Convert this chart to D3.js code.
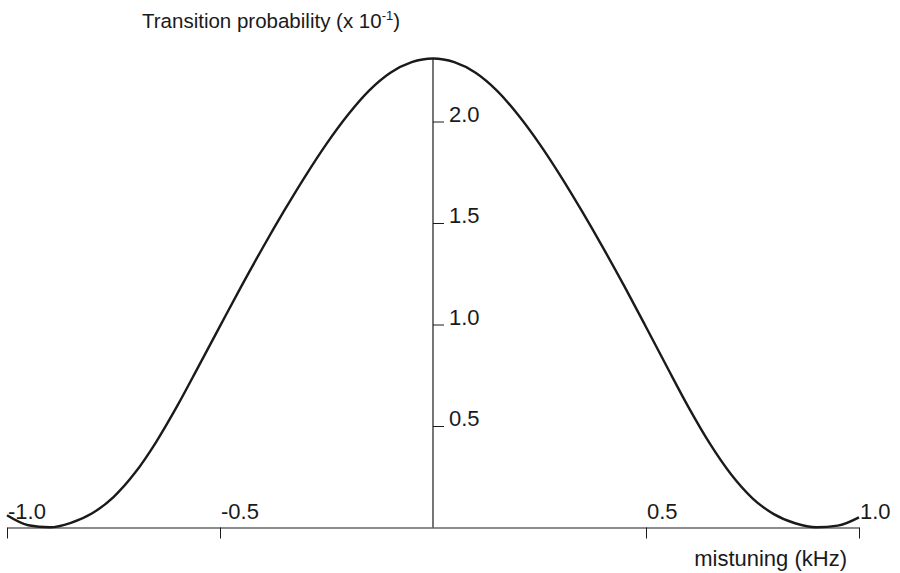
<!DOCTYPE html>
<html>
<head>
<meta charset="utf-8">
<script src="https://cdn.jsdelivr.net/npm/d3@7"></script>
<style>
  html, body { margin: 0; padding: 0; background: #fff; }
  svg { display: block; font-family: "Liberation Sans", Arial, Helvetica, sans-serif; }
</style>
</head>
<body>
<svg id="chart" width="900" height="573"></svg>
<script>
// Detuning (kHz) and transition probability (units of 10^-1)
const detuning = [
  -1.00, -0.95, -0.90, -0.85, -0.80, -0.75, -0.70, -0.65, -0.60, -0.55, -0.50,
  -0.45, -0.40, -0.35, -0.30, -0.25, -0.20, -0.15, -0.10, -0.05, 0.00,
  0.05, 0.10, 0.15, 0.20, 0.25, 0.30, 0.35, 0.40, 0.45, 0.50,
  0.55, 0.60, 0.65, 0.70, 0.75, 0.80, 0.85, 0.90, 0.95, 1.00
];
const probability = [
  0.060, 0.011, 0.001, 0.023, 0.070, 0.150, 0.268, 0.421, 0.600, 0.795, 0.992,
  1.188, 1.377, 1.558, 1.730, 1.890, 2.032, 2.152, 2.240, 2.292, 2.310,
  2.292, 2.240, 2.152, 2.032, 1.890, 1.730, 1.557, 1.375, 1.185, 0.988,
  0.788, 0.592, 0.413, 0.261, 0.144, 0.066, 0.021, 0.001, 0.009, 0.050
];
const xTickValues = [-1.0, -0.5, 0.5, 1.0];
const xTickLabels = ["-1.0", "-0.5", "0.5", "1.0"];
const yTickValues = [0.5, 1.0, 1.5, 2.0];
const yTickLabels = ["0.5", "1.0", "1.5", "2.0"];
const yTitle = "Transition probability (x 10";
const yTitleExp = "-1";
const xTitle = "mistuning (kHz)";

const svg = d3.select("#chart");
const ink = "#1a1a1a";

const x = d3.scaleLinear().domain([-1, 1]).range([7, 859]);
const y = d3.scaleLinear().domain([0, 1]).range([527.5, 324.5]);

const peak = d3.max(probability);

// horizontal axis along zero probability, ticks hanging below
const xAxis = d3.axisBottom(x)
  .tickValues(xTickValues)
  .tickSize(11)
  .tickSizeOuter(0)
  .tickFormat("");
const gx = svg.append("g")
  .attr("transform", `translate(0,${y(0)})`)
  .call(xAxis);
gx.select(".domain").attr("stroke", ink).attr("stroke-width", 1.2);
gx.selectAll(".tick line").attr("stroke", ink).attr("stroke-width", 1);

// tick labels sit above the axis, just right of each tick
svg.append("g").selectAll("text")
  .data(xTickValues)
  .join("text")
  .attr("x", d => x(d) + 1)
  .attr("y", y(0) - 9)
  .attr("font-size", 22)
  .attr("fill", ink)
  .text((d, i) => xTickLabels[i]);

// vertical axis at zero detuning, ticks pointing right
const yAxis = d3.axisRight(y)
  .tickValues(yTickValues)
  .tickSize(11)
  .tickSizeOuter(0)
  .tickFormat("");
const gy = svg.append("g")
  .attr("transform", `translate(${x(0)},0)`)
  .call(yAxis);
gy.select(".domain").remove();
gy.selectAll(".tick line").attr("stroke", ink).attr("stroke-width", 1);
gy.append("line")
  .attr("x1", 0).attr("x2", 0)
  .attr("y1", y(0)).attr("y2", y(peak))
  .attr("stroke", ink).attr("stroke-width", 1.2);

svg.append("g").selectAll("text")
  .data(yTickValues)
  .join("text")
  .attr("x", x(0) + 16)
  .attr("y", d => y(d))
  .attr("font-size", 22)
  .attr("fill", ink)
  .text((d, i) => yTickLabels[i]);

// probability curve
const line = d3.line()
  .x((d, i) => x(detuning[i]))
  .y(d => y(d))
  .curve(d3.curveMonotoneX);
svg.append("path")
  .datum(probability)
  .attr("d", line)
  .attr("fill", "none")
  .attr("stroke", ink)
  .attr("stroke-width", 2.4);

// axis titles
const t = svg.append("text")
  .attr("x", 142)
  .attr("y", 28)
  .attr("font-size", 20.5)
  .attr("fill", ink)
  .text(yTitle);
t.append("tspan").attr("font-size", 13).attr("dy", -8).text(yTitleExp);
t.append("tspan").attr("dy", 8).text(")");

svg.append("text")
  .attr("x", 847)
  .attr("y", 566)
  .attr("text-anchor", "end")
  .attr("font-size", 22)
  .attr("fill", ink)
  .text(xTitle);
</script>
</body>
</html>
